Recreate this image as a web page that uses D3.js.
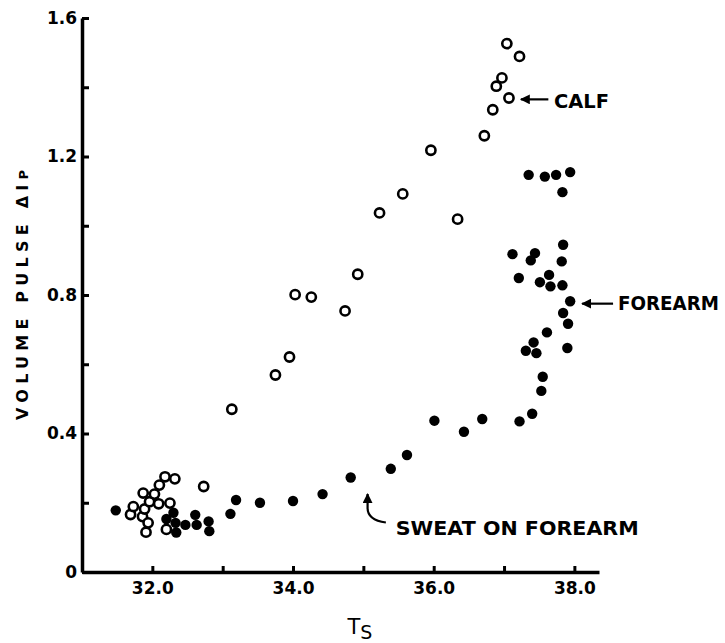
<!DOCTYPE html>
<html>
<head>
<meta charset="utf-8">
<script src="https://cdn.jsdelivr.net/npm/d3@7"></script>
<style>
  body { margin: 0; background: #fff; }
  svg { display: block; }
  text { font-family: "DejaVu Sans", sans-serif; fill: #000; }
</style>
</head>
<body>
<script>
// calf (open circles)
const calfT = [31.69, 31.73, 31.86, 31.87, 31.89, 31.91, 31.94, 31.96, 32.03, 32.09, 32.10, 32.18, 32.20, 32.25, 32.32, 32.73,
  33.13, 33.75, 33.95, 34.03, 34.26, 34.74, 34.92, 35.23, 35.56, 35.96, 36.34, 36.72, 36.84, 37.07, 36.89, 36.97, 37.22, 37.04];
const calfPulse = [0.166, 0.189, 0.160, 0.228, 0.182, 0.115, 0.142, 0.203, 0.225, 0.197, 0.251, 0.275, 0.123, 0.199, 0.269, 0.247,
  0.470, 0.569, 0.621, 0.801, 0.794, 0.754, 0.860, 1.037, 1.092, 1.218, 1.019, 1.260, 1.335, 1.369, 1.403, 1.427, 1.489, 1.526];

// forearm (filled dots)
const forearmT = [31.48, 32.20, 32.30, 32.33, 32.34, 32.47, 32.61, 32.63, 32.80, 32.81,
  33.11, 33.19, 33.53, 34.00, 34.42, 34.82, 35.39, 35.62, 36.01, 36.43, 36.69, 37.22, 37.40,
  37.53, 37.55, 37.31, 37.46, 37.42, 37.61, 37.90, 37.91, 37.84, 37.94, 37.83, 37.66, 37.51,
  37.64, 37.21, 37.82, 37.38, 37.44, 37.12, 37.84, 37.83, 37.35, 37.58, 37.74, 37.94];
const forearmPulse = [0.178, 0.153, 0.171, 0.142, 0.114, 0.136, 0.165, 0.136, 0.146, 0.118,
  0.168, 0.208, 0.200, 0.205, 0.225, 0.273, 0.298, 0.338, 0.437, 0.405, 0.442, 0.435, 0.457,
  0.523, 0.564, 0.639, 0.632, 0.663, 0.692, 0.647, 0.717, 0.748, 0.782, 0.828, 0.825, 0.837,
  0.858, 0.849, 0.897, 0.900, 0.921, 0.918, 0.945, 1.097, 1.147, 1.142, 1.147, 1.155];

const xTicks = [32, 33, 34, 35, 36, 37, 38];
const xLabels = ['32.0', '', '34.0', '', '36.0', '', '38.0'];
const yTicks = [0, 0.2, 0.4, 0.6, 0.8, 1.0, 1.2, 1.4, 1.6];
const yLabels = ['0', '', '0.4', '', '0.8', '', '1.2', '', '1.6'];

const width = 725,
  height = 643;

const x = d3.scaleLinear().domain([31, 38.35]).range([82, 599]);
const y = d3.scaleLinear().domain([0, 1.6]).range([572, 18]);

const svg = d3.select('body')
  .append('svg')
  .attr('width', width)
  .attr('height', height);

svg.append('defs').append('marker')
  .attr('id', 'head')
  .attr('viewBox', '0 0 10 10')
  .attr('refX', 9).attr('refY', 5)
  .attr('markerWidth', 5.5).attr('markerHeight', 4.5)
  .attr('markerUnits', 'strokeWidth')
  .attr('orient', 'auto')
  .append('path')
  .attr('d', 'M0,0L10,5L0,10Z')
  .attr('fill', '#000');

// axes
const xAxis = svg.append('g')
  .attr('transform', `translate(0,${y(0)})`)
  .call(d3.axisBottom(x)
    .tickValues(xTicks)
    .tickSizeInner(-6)
    .tickSizeOuter(0)
    .tickPadding(10)
    .tickFormat((d, i) => xLabels[i]));

const yAxis = svg.append('g')
  .attr('transform', `translate(${x(31)},0)`)
  .call(d3.axisLeft(y)
    .tickValues(yTicks)
    .tickSizeInner(-7)
    .tickSizeOuter(0)
    .tickPadding(5)
    .tickFormat((d, i) => yLabels[i]));

[xAxis, yAxis].forEach(a => {
  a.select('.domain').attr('stroke', '#000').attr('stroke-width', 3.5);
  a.selectAll('.tick line').attr('stroke', '#000').attr('stroke-width', 3);
  a.selectAll('.tick text')
    .style('font-family', '"DejaVu Sans", sans-serif')
    .style('font-size', '17px')
    .style('font-weight', 'bold')
    .attr('fill', '#000');
});

// axis titles
const yTitle = svg.append('text')
  .attr('transform', `translate(28,${y(0.8)}) rotate(-90)`)
  .attr('text-anchor', 'middle')
  .attr('textLength', 250)
  .attr('lengthAdjust', 'spacing')
  .style('font-size', '16px')
  .style('font-weight', 'bold');
yTitle.append('tspan').text('VOLUME PULSE  ΔI');
yTitle.append('tspan').text('P').style('font-size', '13px');

const xTitle = svg.append('text')
  .attr('x', x(34.95))
  .attr('y', 634)
  .attr('text-anchor', 'middle')
  .style('font-size', '21px');
xTitle.append('tspan').text('T');
xTitle.append('tspan').text('S').attr('dy', 5).style('font-size', '19px');

// points
svg.append('g')
  .selectAll('circle')
  .data(calfT)
  .enter().append('circle')
  .attr('cx', d => x(d))
  .attr('cy', (d, i) => y(calfPulse[i]))
  .attr('r', 4.6)
  .attr('fill', '#fff')
  .attr('stroke', '#000')
  .attr('stroke-width', 2.6);

svg.append('g')
  .selectAll('circle')
  .data(forearmT)
  .enter().append('circle')
  .attr('cx', d => x(d))
  .attr('cy', (d, i) => y(forearmPulse[i]))
  .attr('r', 5.2)
  .attr('fill', '#000');

// annotations
const note = (label, tx, ty, len) => svg.append('text')
  .attr('x', x(tx))
  .attr('y', y(ty))
  .attr('textLength', len)
  .attr('lengthAdjust', 'spacingAndGlyphs')
  .style('font-size', '19px')
  .style('font-weight', 'bold')
  .text(label);

note('CALF', 37.71, 1.34, 55);
note('FOREARM', 38.62, 0.756, 101);
note('SWEAT ON FOREARM', 35.46, 0.108, 243);

svg.append('line')
  .attr('x1', x(37.63)).attr('y1', y(1.365))
  .attr('x2', x(37.24)).attr('y2', y(1.365))
  .attr('stroke', '#000').attr('stroke-width', 2.2)
  .attr('marker-end', 'url(#head)');

svg.append('line')
  .attr('x1', x(38.55)).attr('y1', y(0.775))
  .attr('x2', x(38.11)).attr('y2', y(0.775))
  .attr('stroke', '#000').attr('stroke-width', 2.2)
  .attr('marker-end', 'url(#head)');

svg.append('path')
  .attr('d', `M${x(35.32)},${y(0.143)} Q${x(35.06)},${y(0.15)} ${x(35.06)},${y(0.185)} L${x(35.06)},${y(0.225)}`)
  .attr('fill', 'none')
  .attr('stroke', '#000').attr('stroke-width', 2.2)
  .attr('marker-end', 'url(#head)');
</script>
</body>
</html>
